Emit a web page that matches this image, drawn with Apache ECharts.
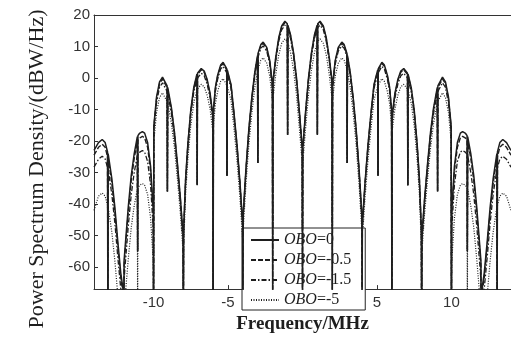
<!DOCTYPE html>
<html>
<head>
<meta charset="utf-8">
<script src="https://cdn.jsdelivr.net/npm/echarts@6/dist/echarts.min.js"></script>
<style>
  html, body { margin: 0; padding: 0; background: #fff; }
  #main { width: 511px; height: 339px; }
</style>
</head>
<body>
<div id="main"></div>
<script>
// frequency grid (MHz), shared by the four curves
const freq = [
  -14, -13.7, -13.45, -13.25, -13.09, -13.07, -13.05, -12.8, -12.6, -12.4, -12.2, -12.02, -12,
  -11.98, -11.9, -11.7, -11.5, -11.3, -11.09, -11.07, -11.05, -10.95, -10.75, -10.6, -10.4, -10.2, -10.02, -10,
  -9.98, -9.8, -9.6, -9.4, -9.09, -9.07, -9.05, -8.8, -8.6, -8.4, -8.2, -8.02, -8,
  -7.98, -7.85, -7.7, -7.5, -7.3, -7.09, -7.07, -7.05, -6.8, -6.6, -6.4, -6.2, -6.02, -6,
  -5.98, -5.85, -5.7, -5.5, -5.33, -5.09, -5.07, -5.05, -4.8, -4.6, -4.4, -4.2, -4.02, -4,
  -3.98, -3.8, -3.6, -3.4, -3.2, -3.02, -3, -2.98, -2.8, -2.64, -2.4, -2.2, -2.02, -2,
  -1.98, -1.8, -1.6, -1.4, -1.18, -1.02, -1, -0.98, -0.8, -0.6, -0.4, -0.2, -0.02,
  0,
  0.02, 0.2, 0.4, 0.6, 0.8, 0.98, 1, 1.02, 1.18, 1.4, 1.6, 1.8, 1.98,
  2, 2.02, 2.2, 2.4, 2.64, 2.8, 2.98, 3, 3.02, 3.2, 3.4, 3.6, 3.8, 3.98,
  4, 4.02, 4.2, 4.4, 4.6, 4.8, 5.05, 5.07, 5.09, 5.33, 5.5, 5.7, 5.85, 5.98,
  6, 6.02, 6.2, 6.4, 6.6, 6.8, 7.05, 7.07, 7.09, 7.3, 7.5, 7.7, 7.85, 7.98,
  8, 8.02, 8.2, 8.4, 8.6, 8.8, 9.05, 9.07, 9.09, 9.4, 9.6, 9.8, 9.98,
  10, 10.02, 10.2, 10.4, 10.6, 10.75, 10.95, 11.05, 11.07, 11.09, 11.3, 11.5, 11.7, 11.9, 11.98,
  12, 12.02, 12.2, 12.4, 12.6, 12.8, 13.05, 13.07, 13.09, 13.25, 13.45, 13.7, 14
];

// OBO = 0 (solid)
const obo0 = [
  -23, -20.5, -19.5, -20.5, -23.5, -80, -24, -32, -41, -52, -62, -68, -80,
  -58, -53, -41, -31, -24, -18.6, -55, -18.3, -17.6, -17, -17.5, -20.5, -28, -42, -80,
  -15, -6, -1.2, 0.3, -2.5, -36, -3, -9.5, -17, -27, -38, -50, -80,
  -48, -32, -21, -10, -3, 1.2, -34, 1.5, 3, 2.2, -0.5, -5, -12, -80,
  -10, -3, 0.9, 4.1, 5, 3, -31, 2.6, -2, -11, -21, -33, -46, -80,
  -43, -29, -16, -6, 2, 7.1, -27, 7.9, 10.6, 11.4, 9.7, 5.6, -2, -80,
  -1, 6.5, 12.7, 16.5, 18, 17.2, -18, 16.8, 13.7, 8, 0, -11, -22,
  -80,
  -22, -11, 0, 8, 13.7, 16.8, -18, 17.2, 18, 16.5, 12.7, 6.5, -1,
  -80, -2, 5.6, 9.7, 11.4, 10.6, 7.9, -27, 7.1, 2, -6, -16, -29, -43,
  -80, -46, -33, -21, -11, -2, 2.6, -31, 3, 5, 4.1, 0.9, -3, -10,
  -80, -12, -5, -0.5, 2.2, 3, 1.5, -34, 1.2, -3, -10, -21, -32, -48,
  -80, -50, -38, -27, -17, -9.5, -3, -36, -2.5, 0.3, -1.2, -6, -15,
  -80, -42, -28, -20.5, -17.5, -17, -17.6, -18.3, -55, -18.6, -24, -31, -41, -53, -58,
  -80, -68, -62, -52, -41, -32, -24, -80, -23.5, -20.5, -19.5, -20.5, -23
];

// OBO = -0.5 (dashed)
const obo05 = [
  -24.5, -22, -21, -22, -25, -80, -25.5, -33.5, -42.5, -53.5, -63.5, -69.5, -80,
  -59.5, -54.5, -42.5, -32.5, -25.5, -20.1, -55, -19.8, -19.1, -18.5, -19, -22, -29.5, -43.5, -80,
  -15.6, -6.6, -1.8, -0.3, -3.1, -36, -3.6, -10.1, -17.6, -27.6, -38.6, -50.6, -80,
  -48.4, -32.4, -21.4, -10.4, -3.4, 0.8, -34, 1.1, 2.6, 1.8, -0.9, -5.4, -12.4, -80,
  -10.4, -3.4, 0.5, 3.7, 4.6, 2.6, -31, 2.2, -2.4, -11.4, -21.4, -33.4, -46.4, -80,
  -43.4, -29.4, -16.4, -6.4, 1.6, 6.7, -27, 7.5, 10.2, 11, 9.3, 5.2, -2.4, -80,
  -1.4, 6.1, 12.3, 16.1, 17.6, 16.8, -18, 16.4, 13.3, 7.6, -0.4, -11.5, -22.5,
  -80,
  -22.5, -11.5, -0.4, 7.6, 13.3, 16.4, -18, 16.8, 17.6, 16.1, 12.3, 6.1, -1.4,
  -80, -2.4, 5.2, 9.3, 11, 10.2, 7.5, -27, 6.7, 1.6, -6.4, -16.4, -29.4, -43.4,
  -80, -46.4, -33.4, -21.4, -11.4, -2.4, 2.2, -31, 2.6, 4.6, 3.7, 0.5, -3.4, -10.4,
  -80, -12.4, -5.4, -0.9, 1.8, 2.6, 1.1, -34, 0.8, -3.4, -10.4, -21.4, -32.4, -48.4,
  -80, -50.6, -38.6, -27.6, -17.6, -10.1, -3.6, -36, -3.1, -0.3, -1.8, -6.6, -15.6,
  -80, -43.5, -29.5, -22, -19, -18.5, -19.1, -19.8, -55, -20.1, -25.5, -32.5, -42.5, -54.5, -59.5,
  -80, -69.5, -63.5, -53.5, -42.5, -33.5, -25.5, -80, -25, -22, -21, -22, -24.5
];

// OBO = -1.5 (dash-dot)
const obo15 = [
  -28.3, -25.8, -24.8, -25.7, -28.5, -80, -29, -37, -46, -57, -67, -73, -80,
  -64, -59, -47, -37, -30, -24.6, -55, -24.3, -23.6, -23, -23.5, -26.5, -34, -48, -80,
  -16.8, -7.8, -3, -1.5, -4.3, -36, -4.8, -11.3, -18.8, -28.8, -39.8, -51.8, -80,
  -49.5, -33.5, -22.5, -11.5, -4.5, -0.3, -34, 0, 1.5, 0.7, -2, -6.5, -13.5, -80,
  -11.3, -4.3, -0.4, 2.8, 3.7, 1.7, -31, 1.3, -3.3, -12.3, -22.3, -34.3, -47.3, -80,
  -44.2, -30.2, -17.2, -7.2, 0.8, 5.9, -27, 6.7, 9.4, 10.2, 8.5, 4.4, -3.2, -80,
  -2.2, 5.3, 11.5, 15.3, 16.8, 16, -18, 15.6, 12.5, 6.8, -1.2, -12, -23,
  -80,
  -23, -12, -1.2, 6.8, 12.5, 15.6, -18, 16, 16.8, 15.3, 11.5, 5.3, -2.2,
  -80, -3.2, 4.4, 8.5, 10.2, 9.4, 6.7, -27, 5.9, 0.8, -7.2, -17.2, -30.2, -44.2,
  -80, -47.3, -34.3, -22.3, -12.3, -3.3, 1.3, -31, 1.7, 3.7, 2.8, -0.4, -4.3, -11.3,
  -80, -13.5, -6.5, -2, 0.7, 1.5, 0, -34, -0.3, -4.5, -11.5, -22.5, -33.5, -49.5,
  -80, -51.8, -39.8, -28.8, -18.8, -11.3, -4.8, -36, -4.3, -1.5, -3, -7.8, -16.8,
  -80, -48, -34, -26.5, -23.5, -23, -23.6, -24.3, -55, -24.6, -30, -37, -47, -59, -64,
  -80, -73, -67, -57, -46, -37, -29, -80, -28.5, -25.7, -24.8, -25.8, -28.3
];

// OBO = -5 (dotted)
const obo5 = [
  -42, -37.5, -36.5, -37.5, -40.5, -80, -41, -49, -58, -69, -79, -85, -80,
  -74, -69, -57.5, -47.5, -40.5, -35.3, -80, -35, -34.1, -33.5, -34, -37, -44.5, -58.5, -80,
  -20, -11, -6.2, -4.7, -7.5, -36, -8, -14.5, -22, -32, -43, -55, -80,
  -53, -37, -26, -15, -8, -3.8, -34, -3.5, -2, -2.8, -5.5, -10, -17, -80,
  -15, -8.2, -4.3, -1.1, -0.2, -2.2, -31, -2.6, -7, -16, -26, -38, -51, -80,
  -48, -34, -21, -11, -3, 2.1, -27, 2.9, 5.6, 6.4, 4.7, 0.6, -7, -80,
  -6.5, 1, 7.2, 11, 12.4, 11.6, -18, 11.2, 8, 2.5, -5.5, -16.5, -27,
  -80,
  -27, -16.5, -5.5, 2.5, 8, 11.2, -18, 11.6, 12.4, 11, 7.2, 1, -6.5,
  -80, -7, 0.6, 4.7, 6.4, 5.6, 2.9, -27, 2.1, -3, -11, -21, -34, -48,
  -80, -51, -38, -26, -16, -7, -2.6, -31, -2.2, -0.2, -1.1, -4.3, -8.2, -15,
  -80, -17, -10, -5.5, -2.8, -2, -3.5, -34, -3.8, -8, -15, -26, -37, -53,
  -80, -55, -43, -32, -22, -14.5, -8, -36, -7.5, -4.7, -6.2, -11, -20,
  -80, -58.5, -44.5, -37, -34, -33.5, -34.1, -35, -80, -35.3, -40.5, -47.5, -57.5, -69, -74,
  -80, -85, -79, -69, -58, -49, -41, -80, -40.5, -37.5, -36.5, -37.5, -42
];

const xTicks = [-10, -5, 0, 5, 10];
const yTicks = [-60, -50, -40, -30, -20, -10, 0, 10, 20];
const names = ["OBO=0", "OBO=-0.5", "OBO=-1.5", "OBO=-5"];

const chart = echarts.init(document.getElementById("main"));

const pairs = (vals) => freq.map((f, i) => [f, vals[i]]);
const ink = "#1e1e1e";
const labelFont = "Liberation Sans";
const serif = "Liberation Serif";

const line = (name, vals, type, width, z) => ({
  name: name,
  type: "line",
  data: pairs(vals),
  symbol: "none",
  clip: true,
  z: z,
  lineStyle: { color: ink, width: width, type: type },
  itemStyle: { color: ink },
  emphasis: { disabled: true },
  animation: false,
});

const option = {
  animation: false,
  grid: { left: 94, right: -1, top: 15, bottom: 37 },
  xAxis: [
    {
      type: "value",
      min: -14,
      max: 14,
      position: "bottom",
      name: "Frequency/MHz",
      nameLocation: "middle",
      nameGap: 17,
      nameTextStyle: { fontFamily: serif, fontSize: 19, fontWeight: "bold", color: ink },
      axisLine: { show: true, onZero: false, lineStyle: { color: "#333", width: 1 } },
      axisTick: { inside: true, length: 4, customValues: xTicks, lineStyle: { color: "#333" } },
      axisLabel: { customValues: xTicks, margin: 6, fontFamily: labelFont, fontSize: 15, color: "#333" },
      splitLine: { show: false },
    },
    {
      type: "value",
      min: -14,
      max: 14,
      position: "top",
      axisLine: { show: true, onZero: false, lineStyle: { color: "#333", width: 1 } },
      axisTick: { show: false },
      axisLabel: { show: false },
      splitLine: { show: false },
    },
  ],
  yAxis: [
    {
      type: "value",
      min: -67,
      max: 20,
      position: "left",
      axisLine: { show: true, onZero: false, lineStyle: { color: "#333", width: 1 } },
      axisTick: { inside: true, length: 4, customValues: yTicks, lineStyle: { color: "#333" } },
      axisLabel: { customValues: yTicks, margin: 4, fontFamily: labelFont, fontSize: 15, color: "#333" },
      splitLine: { show: false },
    },
    {
      type: "value",
      min: -67,
      max: 20,
      position: "right",
      axisLine: { show: true, onZero: false, lineStyle: { color: "#333", width: 1 } },
      axisTick: { show: false },
      axisLabel: { show: false },
      splitLine: { show: false },
    },
  ],
  legend: {
    data: names,
    orient: "vertical",
    left: 242,
    top: 228,
    padding: [4, 14, 2, 8],
    itemWidth: 28,
    itemHeight: 14,
    itemGap: 4,
    backgroundColor: "#fff",
    borderColor: "#222",
    borderWidth: 1,
    selectedMode: false,
    // only the line sample, no marker dot
    itemStyle: { opacity: 0 },
    formatter: (name) => "{i|OBO}{n|" + name.slice(3) + "}",
    textStyle: {
      fontFamily: serif,
      fontSize: 16,
      color: ink,
      rich: {
        i: { fontFamily: serif, fontSize: 16, fontStyle: "italic", color: ink },
        n: { fontFamily: serif, fontSize: 16, color: ink },
      },
    },
  },
  graphic: [
    {
      type: "text",
      x: 37,
      y: 169,
      rotation: Math.PI / 2,
      style: {
        text: "Power Spectrum Density/(dBW/Hz)",
        font: '22px "Liberation Serif"',
        fill: ink,
        align: "center",
        verticalAlign: "middle",
      },
    },
  ],
  series: [
    line(names[0], obo0, "solid", 1.5, 5),
    line(names[1], obo05, [5, 2], 1.4, 4),
    line(names[2], obo15, [5, 2, 1.5, 2], 1.3, 3),
    line(names[3], obo5, [1, 1.5], 1.2, 2),
  ],
};

chart.setOption(option);
</script>
</body>
</html>
